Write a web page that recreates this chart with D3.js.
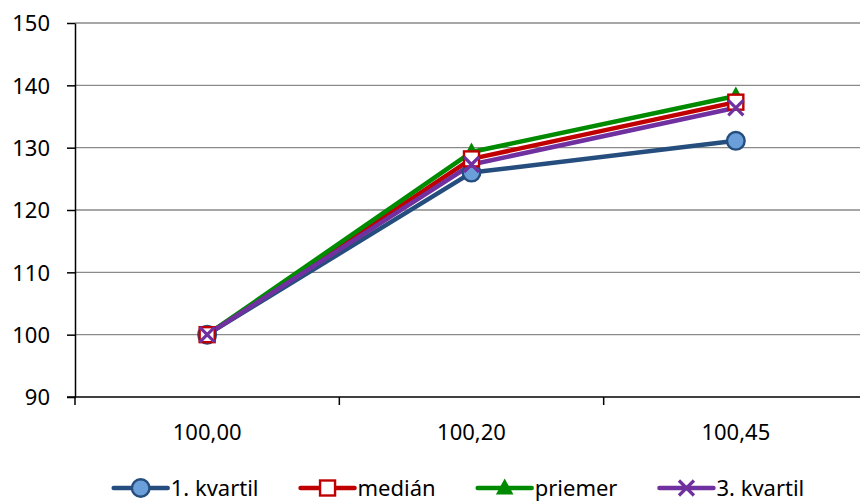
<!DOCTYPE html>
<html>
<head>
<meta charset="utf-8">
<script src="https://cdn.jsdelivr.net/npm/d3@7"></script>
<style>
  html, body { margin: 0; padding: 0; background: #fff; }
  svg { display: block; font-family: "Noto Sans", "Open Sans", sans-serif; }
</style>
</head>
<body>
<svg id="chart" width="860" height="501"></svg>
<script>
// Category labels along the x axis
const categories = ["100,00", "100,20", "100,45"];

// Series values (index = 100 at the first category)
const kvartil1 = [100, 126.0, 131.1];
const median   = [100, 128.2, 137.3];
const priemer  = [100, 129.3, 138.3];
const kvartil3 = [100, 127.3, 136.4];

const seriesNames = ["1. kvartil", "medián", "priemer", "3. kvartil"];
const yTicks = [90, 100, 110, 120, 130, 140, 150];

const series = [
  { name: seriesNames[0], values: kvartil1, color: "#254E7E", marker: "circle" },
  { name: seriesNames[1], values: median,   color: "#C00000", marker: "square" },
  { name: seriesNames[2], values: priemer,  color: "#008A00", marker: "triangle" },
  { name: seriesNames[3], values: kvartil3, color: "#7030A0", marker: "cross" }
];

const svg = d3.select("#chart");
const plot = { left: 75, top: 23, right: 868, bottom: 397 };

const x = d3.scaleBand().domain(categories).range([plot.left, plot.right]).padding(0);
const y = d3.scaleLinear().domain([90, 150]).range([plot.bottom, plot.top]);
const cx = c => x(c) + x.bandwidth() / 2;

// Horizontal gridlines
svg.append("g")
  .selectAll("line")
  .data(yTicks.filter(v => v > 90))
  .join("line")
  .attr("x1", plot.left).attr("x2", plot.right)
  .attr("y1", d => y(d)).attr("y2", d => y(d))
  .attr("stroke", "#8a8a8a").attr("stroke-width", 1.4);

// Y axis
const yAxis = svg.append("g")
  .attr("transform", `translate(${plot.left},0)`)
  .call(d3.axisLeft(y).tickValues(yTicks).tickSize(8).tickSizeOuter(0).tickPadding(17));
yAxis.select(".domain").attr("stroke", "#000").attr("stroke-width", 1.5);
yAxis.selectAll(".tick line").attr("stroke", "#000").attr("stroke-width", 1.5);
yAxis.selectAll(".tick text")
  .attr("font-size", 22).attr("fill", "#000")
  .attr("font-family", "'Noto Sans', 'Open Sans', sans-serif")
  .attr("dy", "0.36em");

// X axis: labels centred in each band, tick marks at band boundaries
const xAxis = svg.append("g")
  .attr("transform", `translate(0,${plot.bottom})`)
  .call(d3.axisBottom(x).tickSize(0).tickSizeOuter(0));
xAxis.select(".domain").remove();
xAxis.selectAll(".tick text")
  .attr("font-size", 22).attr("fill", "#000")
  .attr("font-family", "'Noto Sans', 'Open Sans', sans-serif")
  .attr("y", 43).attr("dy", 0);
svg.append("line")
  .attr("x1", plot.left - 8).attr("x2", plot.right)
  .attr("y1", plot.bottom).attr("y2", plot.bottom)
  .attr("stroke", "#000").attr("stroke-width", 1.5);
svg.append("g")
  .selectAll("line")
  .data(categories)
  .join("line")
  .attr("x1", d => x(d)).attr("x2", d => x(d))
  .attr("y1", plot.bottom).attr("y2", plot.bottom + 8)
  .attr("stroke", "#000").attr("stroke-width", 1.5);

// Marker drawing shared by plot and legend
function drawMarker(g, type, color) {
  if (type === "circle") {
    g.append("circle").attr("r", 8.8)
      .attr("fill", "#6A9FDA").attr("stroke", color).attr("stroke-width", 2.4);
  } else if (type === "square") {
    g.append("rect").attr("x", -7.5).attr("y", -7.5).attr("width", 15).attr("height", 15)
      .attr("fill", "#fff").attr("stroke", color).attr("stroke-width", 2.4);
  } else if (type === "triangle") {
    g.append("path").attr("d", "M0,-9.5 L8.8,6.5 L-8.8,6.5 Z").attr("fill", color);
  } else if (type === "cross") {
    g.append("path").attr("d", "M-7.5,-7.5 L7.5,7.5 M-7.5,7.5 L7.5,-7.5")
      .attr("stroke", color).attr("stroke-width", 3.2).attr("fill", "none");
  }
}

// Lines
const line = d3.line().x((d, i) => cx(categories[i])).y(d => y(d));
svg.append("g")
  .selectAll("path")
  .data(series)
  .join("path")
  .attr("d", d => line(d.values))
  .attr("fill", "none")
  .attr("stroke", d => d.color)
  .attr("stroke-width", 4.5)
  .attr("stroke-linejoin", "round")
  .attr("stroke-linecap", "round");

// Markers (triangles under squares, crosses on top)
const markerOrder = [0, 2, 1, 3];
const markersG = svg.append("g");
markerOrder.forEach(si => {
  const s = series[si];
  s.values.forEach((v, i) => {
    const g = markersG.append("g").attr("transform", `translate(${cx(categories[i])},${y(v)})`);
    drawMarker(g, s.marker, s.color);
  });
});

// Legend
const legendY = 488;
const legend = svg.append("g");
const items = [];
series.forEach(s => {
  const g = legend.append("g");
  g.append("line").attr("x1", 0).attr("x2", 54).attr("y1", 0).attr("y2", 0)
    .attr("stroke", s.color).attr("stroke-width", 4.5).attr("stroke-linecap", "round");
  const mg = g.append("g").attr("transform", "translate(27,0)");
  drawMarker(mg, s.marker, s.color);
  const t = g.append("text").attr("x", 57).attr("y", 0).attr("dy", "0.36em")
    .attr("font-size", 22).attr("fill", "#000").text(s.name);
  items.push({ g, w: 57 + t.node().getComputedTextLength() });
});
const gap = 42;
const total = d3.sum(items, d => d.w) + gap * (items.length - 1);
let lx = 459 - total / 2;
items.forEach(it => {
  it.g.attr("transform", `translate(${lx},${legendY})`);
  lx += it.w + gap;
});
</script>
</body>
</html>
